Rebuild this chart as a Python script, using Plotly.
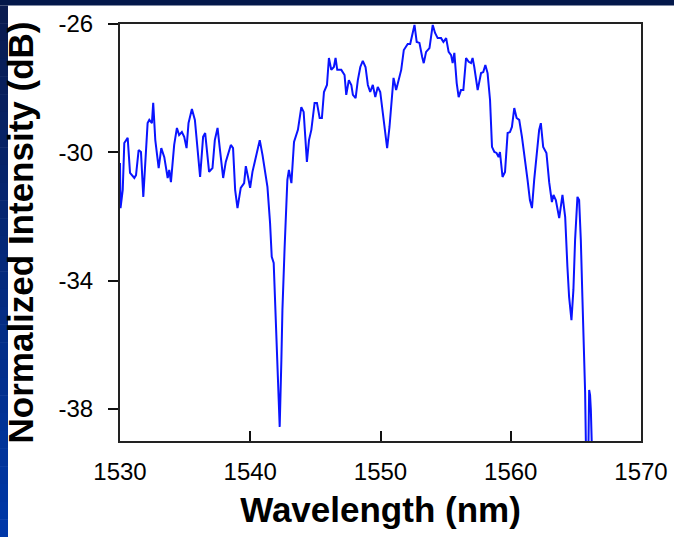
import plotly.graph_objects as go

# ---- data ----
wavelength_nm = [
    1530.00, 1530.04, 1530.21, 1530.33, 1530.59, 1530.77, 1531.10, 1531.23, 1531.43, 1531.61,
    1531.79, 1532.12, 1532.25, 1532.45, 1532.55, 1532.71, 1532.97, 1533.17, 1533.40, 1533.66,
    1533.78, 1533.91, 1534.16, 1534.37, 1534.54, 1534.75, 1534.93, 1535.11, 1535.26, 1535.52,
    1535.75, 1535.95, 1536.15, 1536.38, 1536.54, 1536.84, 1537.10, 1537.28, 1537.49, 1537.66,
    1537.92, 1538.12, 1538.33, 1538.51, 1538.68, 1538.84, 1539.02, 1539.27, 1539.53, 1539.66,
    1539.83, 1539.99, 1540.17, 1540.37, 1540.55, 1540.73, 1540.94, 1541.32, 1541.52, 1541.65,
    1541.80, 1542.03, 1542.15, 1542.26, 1542.39, 1542.47, 1542.64, 1542.85, 1542.97, 1543.16,
    1543.36, 1543.66, 1543.92, 1544.10, 1544.35, 1544.51, 1544.69, 1544.94, 1545.12, 1545.33,
    1545.50, 1545.66, 1545.89, 1546.04, 1546.22, 1546.42, 1546.55, 1546.68, 1546.99, 1547.24,
    1547.37, 1547.57, 1547.76, 1547.88, 1548.09, 1548.26, 1548.45, 1548.64, 1548.85, 1549.03,
    1549.21, 1549.41, 1549.60, 1549.79, 1549.98, 1550.18, 1550.36, 1550.51, 1550.69, 1550.82,
    1551.00, 1551.20, 1551.38, 1551.59, 1551.79, 1552.09, 1552.28, 1552.43, 1552.61, 1552.78,
    1552.99, 1553.20, 1553.32, 1553.50, 1553.76, 1554.01, 1554.19, 1554.39, 1554.65, 1554.83,
    1555.04, 1555.23, 1555.42, 1555.54, 1555.67, 1555.85, 1556.00, 1556.18, 1556.36, 1556.57,
    1556.77, 1556.95, 1557.07, 1557.20, 1557.46, 1557.72, 1557.89, 1558.05, 1558.22, 1558.41,
    1558.56, 1558.74, 1558.91, 1559.07, 1559.17, 1559.37, 1559.56, 1559.76, 1559.94, 1560.09,
    1560.27, 1560.45, 1560.65, 1560.86, 1561.11, 1561.29, 1561.47, 1561.63, 1561.80, 1561.98,
    1562.18, 1562.31, 1562.49, 1562.74, 1562.95, 1563.16, 1563.28, 1563.46, 1563.72, 1563.97,
    1564.18, 1564.35, 1564.48, 1564.66, 1564.81, 1564.94, 1565.12, 1565.25, 1565.38, 1565.50,
    1565.63, 1565.71, 1565.78, 1565.92, 1566.02, 1566.09, 1566.15, 1566.23, 1566.35,
]
intensity_db = [
    -30.33, -31.74, -31.17, -29.71, -29.55, -30.64, -30.80, -30.71, -29.93, -29.99,
    -31.39, -29.09, -28.99, -29.09, -28.46, -29.62, -30.49, -29.87, -30.15, -30.80,
    -30.55, -30.93, -29.77, -29.24, -29.46, -29.37, -29.52, -29.87, -29.09, -28.65,
    -28.99, -29.99, -30.77, -29.52, -29.40, -30.61, -30.49, -29.62, -29.24, -29.87,
    -30.80, -30.30, -30.02, -29.77, -29.87, -31.17, -31.74, -31.11, -30.96, -30.43,
    -30.77, -31.11, -30.61, -30.24, -29.99, -29.62, -30.08, -31.08, -32.20, -33.26,
    -33.45, -36.22, -37.72, -38.56, -36.47, -34.92, -32.95, -30.86, -30.55, -30.96,
    -29.68, -29.30, -28.59, -28.74, -30.30, -29.62, -29.30, -28.46, -28.46, -28.93,
    -28.93, -28.12, -27.90, -27.06, -27.43, -27.34, -27.06, -27.43, -27.43, -27.59,
    -28.21, -27.75, -27.90, -28.21, -28.31, -27.75, -27.34, -27.15, -27.34, -27.90,
    -28.12, -27.90, -28.28, -27.96, -28.12, -28.77, -29.30, -29.87, -29.21, -28.59,
    -27.68, -28.06, -27.75, -27.43, -26.81, -26.62, -26.62, -26.34, -26.03, -26.56,
    -26.59, -27.03, -27.22, -26.87, -26.75, -26.03, -26.28, -26.44, -26.44, -26.56,
    -26.44, -26.87, -26.97, -27.22, -26.90, -27.84, -28.28, -28.06, -28.06, -27.06,
    -27.18, -27.22, -27.06, -27.34, -28.06, -27.53, -27.50, -27.28, -27.53, -28.37,
    -29.83, -29.99, -30.02, -30.15, -29.99, -30.77, -30.61, -29.40, -29.37, -29.21,
    -28.62, -28.93, -28.99, -29.52, -30.24, -30.86, -31.49, -31.74, -30.86, -30.15,
    -29.30, -29.09, -29.83, -30.02, -30.93, -31.55, -31.33, -31.49, -32.05, -31.33,
    -32.02, -33.57, -34.51, -35.23, -34.29, -32.73, -31.39, -31.49, -32.73, -34.51,
    -36.07, -37.47, -39.40, -40.60, -37.41, -37.57, -38.03, -39.50, -41.00,
]
x_ticks = [1530, 1540, 1550, 1560, 1570]
x_tick_labels = ["1530", "1540", "1550", "1560", "1570"]
y_ticks = [-26, -30, -34, -38]
y_tick_labels = ["-26", "-30", "-34", "-38"]
x_title = "Wavelength (nm)"
y_title = "Normalized Intensity (dB)"

FONT = "Liberation Sans, Arial, sans-serif"

fig = go.Figure()
fig.add_trace(go.Scatter(
    x=wavelength_nm, y=intensity_db, mode="lines",
    line=dict(color="#0a14ff", width=2),
    cliponaxis=True, showlegend=False,
))

# slide background decoration (navy top band, gradient left strip)
W, H = 674, 537
ML, MR, MT, MB = 120, 33, 24, 96
pw, ph = W - ML - MR, H - MT - MB


def px_x(p):
    return (p - ML) / pw


def px_y(p):
    return (H - MB - p) / ph


shapes = []
shapes.append(dict(type="rect", xref="paper", yref="paper",
                   x0=px_x(-2), x1=px_x(W + 2), y0=px_y(5.5), y1=px_y(-2),
                   fillcolor="#03184a", line=dict(width=0), layer="above"))
n = 30
top_c = (0x0a, 0x1c, 0x50)
bot_c = (0x00, 0x38, 0xa8)
for i in range(n):
    t = i / (n - 1)
    c = tuple(int(top_c[k] + (bot_c[k] - top_c[k]) * t) for k in range(3))
    y0p = 5.5 + (H - 5.5) * i / n
    y1p = 5.5 + (H - 5.5) * (i + 1) / n
    shapes.append(dict(type="rect", xref="paper", yref="paper",
                       x0=px_x(-2), x1=px_x(8), y0=px_y(y1p + 0.5), y1=px_y(y0p),
                       fillcolor="rgb(%d,%d,%d)" % c, line=dict(width=0), layer="above"))

fig.update_layout(
    width=W, height=H,
    margin=dict(l=ML, r=MR, t=MT, b=MB, autoexpand=False),
    paper_bgcolor="white", plot_bgcolor="white",
    font=dict(family=FONT, color="black"),
    shapes=shapes,
    xaxis=dict(
        range=[1530, 1570], tickvals=x_ticks, ticktext=x_tick_labels,
        ticks="inside", ticklen=10, automargin=False,
        tickwidth=2, tickcolor="#111", showline=True, linecolor="#222",
        linewidth=2, mirror=True, showgrid=False, zeroline=False,
        tickfont=dict(size=24, family=FONT), ticklabelstandoff=8,
        title=dict(text="<b>%s</b>" % x_title, font=dict(size=35, family=FONT),
                   standoff=14),
    ),
    yaxis=dict(
        range=[-39, -26], tickvals=y_ticks, ticktext=y_tick_labels,
        ticks="outside", ticklen=10, automargin=False,
        tickwidth=2, tickcolor="#111", showline=True, linecolor="#222",
        linewidth=2, mirror=True, showgrid=False, zeroline=False,
        tickfont=dict(size=24, family=FONT), ticklabelstandoff=10,
        title=dict(text="<b>%s</b>" % y_title, font=dict(size=35, family=FONT),
                   standoff=14),
    ),
)

fig.write_html("out.html")
